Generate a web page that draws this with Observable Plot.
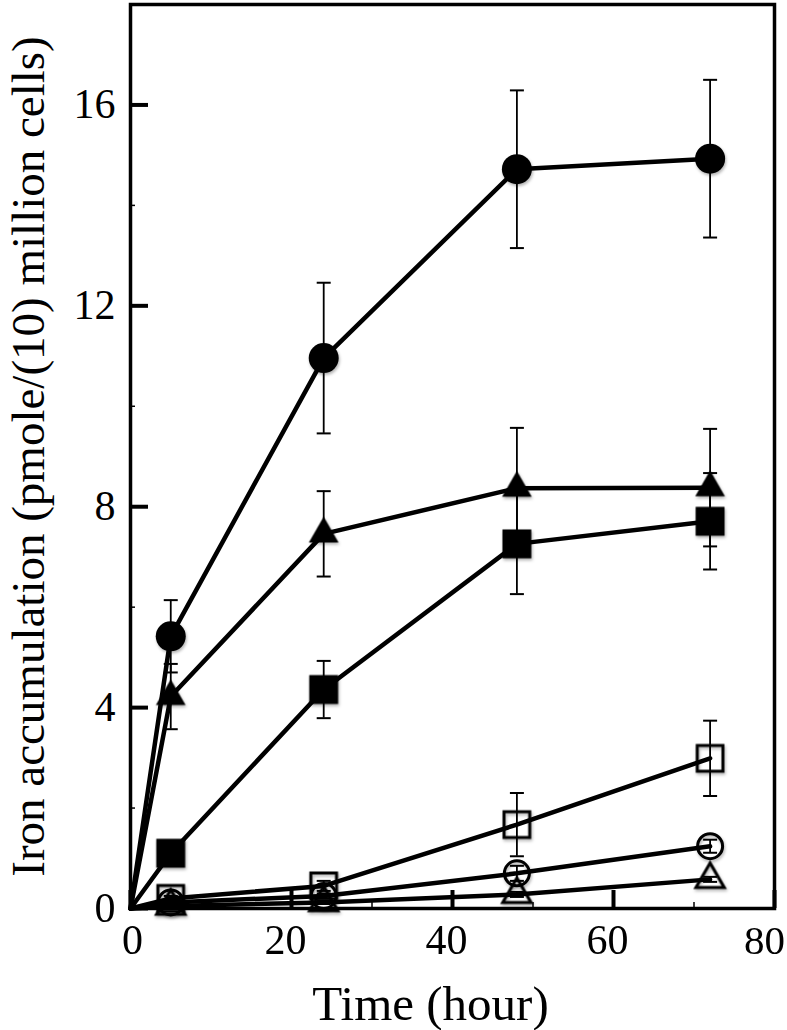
<!DOCTYPE html>
<html>
<head>
<meta charset="utf-8">
<script src="https://cdn.jsdelivr.net/npm/d3@7"></script>
<script src="https://cdn.jsdelivr.net/npm/@observablehq/plot@0.6"></script>
<style>
  html, body { margin: 0; padding: 0; background: white; }
  #chart svg { display: block; }
</style>
</head>
<body>
<div id="chart"></div>
<script>
// ---- data ----
const time = [0, 5, 24, 48, 72];

const filledCircle      = [0, 5.42, 10.96, 14.72, 14.93];
const filledCircleErr   = [0, 0.72, 1.50, 1.57, 1.57];
const filledTriangle    = [0, 4.22, 7.46, 8.37, 8.38];
const filledTriangleErr = [0, 0.65, 0.85, 1.20, 1.17];
const filledSquare      = [0, 1.10, 4.36, 7.26, 7.71];
const filledSquareErr   = [0, 0.10, 0.57, 1.00, 0.96];
const openSquare        = [0, 0.20, 0.45, 1.67, 2.99];
const openSquareErr     = [0, 0.05, 0.10, 0.63, 0.75];
const openCircle        = [0, 0.12, 0.25, 0.70, 1.24];
const openCircleErr     = [0, 0.03, 0.05, 0.15, 0.13];
const openTriangle      = [0, 0.05, 0.12, 0.28, 0.58];
const openTriangleErr   = [0, 0.00, 0.03, 0.05, 0.05];

const xMajor = [0, 20, 40, 60, 80];
const xMinor = [10, 30, 50, 70];
const yMajor = [0, 4, 8, 12, 16];
const yMinor = [2, 6, 10, 14];

const xTitle = "Time (hour)";
const yTitle = "Iron accumulation (pmole/(10) million cells)";

// ---- series definitions (style lives here, not in the value arrays) ----
const series = [
  {name: "filledCircle",   values: filledCircle,   err: filledCircleErr,   symbol: "circle",   fill: "black", r: 15},
  {name: "filledTriangle", values: filledTriangle, err: filledTriangleErr, symbol: "triangle", fill: "black", r: 11},
  {name: "filledSquare",   values: filledSquare,   err: filledSquareErr,   symbol: "square",   fill: "black", r: 16.3},
  {name: "openSquare",     values: openSquare,     err: openSquareErr,     symbol: "square",   fill: "none",  r: 14.5},
  {name: "openCircle",     values: openCircle,     err: openCircleErr,     symbol: "circle",   fill: "none",  r: 12.5},
  {name: "openTriangle",   values: openTriangle,   err: openTriangleErr,   symbol: "triangle", fill: "none",  r: 10.5}
];

const rows = series.flatMap(s => time.map((t, i) => ({
  series: s.name, t, v: s.values[i], e: s.err[i]
})));
const errRows = rows.filter(d => d.e > 0);

// horizontal cap symbol for error bars
const capSymbol = {
  draw(ctx, size) {
    const w = Math.sqrt(size / Math.PI);
    ctx.moveTo(-w, 0);
    ctx.lineTo(w, 0);
  }
};

const font = "'Liberation Serif', 'Times New Roman', serif";
const fmt = d3.format("d");

const markerMarks = series.map(s => {
  const data = rows.filter(d => d.series === s.name && d.t > 0);
  return s.fill === "none"
    ? Plot.dot(data, {x: "t", y: "v", symbol: s.symbol, r: s.r, fill: "none", stroke: "black", strokeWidth: 3})
    : Plot.dot(data, {x: "t", y: "v", symbol: s.symbol, r: s.r, fill: "black", stroke: "none"});
});

const chart = Plot.plot({
  width: 787,
  height: 1030,
  marginLeft: 130,
  marginRight: 13,
  marginTop: 4,
  marginBottom: 122,
  x: {domain: [0, 80], label: null},
  y: {domain: [0, 18], label: null},
  style: {fontFamily: font, background: "white", color: "black"},
  marks: [
    // error bars
    Plot.ruleX(errRows, {x: "t", y1: d => d.v - d.e, y2: d => d.v + d.e, stroke: "black", strokeWidth: 1.8}),
    Plot.dot(errRows, {x: "t", y: d => d.v + d.e, symbol: capSymbol, r: 7, stroke: "black", strokeWidth: 2, fill: "none"}),
    Plot.dot(errRows, {x: "t", y: d => d.v - d.e, symbol: capSymbol, r: 7, stroke: "black", strokeWidth: 2, fill: "none"}),
    // connecting lines
    Plot.line(rows, {x: "t", y: "v", z: "series", stroke: "black", strokeWidth: 4.5, strokeLinejoin: "round"}),
    // markers
    ...markerMarks,
    // axes: inward ticks
    Plot.axisX(xMajor, {tickSize: -18, strokeWidth: 4, tickFormat: () => "", label: null}),
    Plot.axisX(xMinor, {tickSize: -6, strokeWidth: 1.5, tickFormat: () => "", label: null}),
    Plot.axisY(yMajor, {tickSize: -18, strokeWidth: 4, tickFormat: () => "", label: null}),
    Plot.axisY(yMinor, {tickSize: -5, strokeWidth: 1.5, tickFormat: () => "", label: null}),
    // tick labels
    Plot.axisX(xMajor.slice(0, 1), {tickSize: 0, tickPadding: 16, fontSize: 42, dx: 2, tickFormat: fmt, label: null, fontFamily: font}),
    Plot.axisX(xMajor.slice(1, 4), {tickSize: 0, tickPadding: 16, fontSize: 42, dx: -6, tickFormat: fmt, label: null, fontFamily: font}),
    Plot.axisX(xMajor.slice(4), {tickSize: 0, tickPadding: 16, fontSize: 41, dx: -10, tickFormat: fmt, label: null, fontFamily: font}),
    Plot.axisY(yMajor, {tickSize: 0, tickPadding: 15, fontSize: 42, tickFormat: fmt, label: null, fontFamily: font}),
    // frame
    Plot.frame({stroke: "black", strokeWidth: 3.5}),
    // titles
    Plot.text([xTitle], {text: d => d, frameAnchor: "bottom", lineAnchor: "middle", textAnchor: "middle", dy: 96, dx: -22, fontSize: 49, fontFamily: font}),
    Plot.text([yTitle], {text: d => d, frameAnchor: "left", lineAnchor: "middle", textAnchor: "middle", dx: -102, rotate: -90, fontSize: 47, fontFamily: font})
  ]
});

// subtle drop shadow on markers like the reference
chart.querySelectorAll('g[aria-label="dot"]').forEach((g, i) => {
  if (i >= 2) g.style.filter = "drop-shadow(1px 2px 1.5px rgba(0,0,0,0.3))";
});

document.getElementById("chart").appendChild(chart);
</script>
</body>
</html>
